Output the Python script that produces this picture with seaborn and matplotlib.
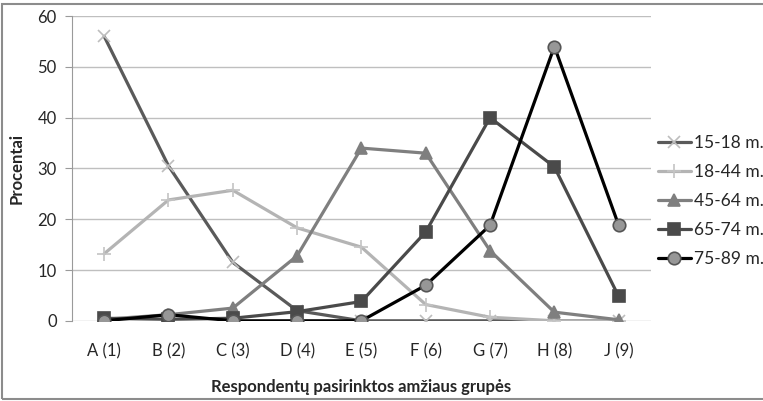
import pandas as pd
import matplotlib
matplotlib.use("Agg")
import matplotlib.pyplot as plt
import seaborn as sns
from matplotlib.patches import Rectangle

# data
categories = ["A (1)", "B (2)", "C (3)", "D (4)", "E (5)", "F (6)", "G (7)", "H (8)", "J (9)"]
g15_18 = [56.0, 30.5, 11.5, 2.0, 0.0, 0.0, 0.0, 0.0, 0.0]
g18_44 = [13.2, 23.8, 25.7, 18.3, 14.5, 3.2, 0.7, 0.0, 0.0]
g45_64 = [0.3, 1.2, 2.5, 12.8, 34.0, 33.0, 13.8, 1.7, 0.2]
g65_74 = [0.5, 0.3, 0.5, 1.8, 3.8, 17.5, 40.0, 30.3, 4.8]
g75_89 = [0.0, 1.2, 0.0, 0.0, 0.0, 7.0, 18.8, 54.0, 18.8]

series = {
    "15-18 m.": g15_18,
    "18-44 m.": g18_44,
    "45-64 m.": g45_64,
    "65-74 m.": g65_74,
    "75-89 m.": g75_89,
}

# line colour, marker, marker face, marker edge, marker size
styles = {
    "15-18 m.": ("#5a5a5a", "x", "#bdbdbd", "#bdbdbd", 9),
    "18-44 m.": ("#b4b4b4", "+", "#c4c4c4", "#c4c4c4", 10),
    "45-64 m.": ("#7f7f7f", "^", "#7f7f7f", "#7f7f7f", 8),
    "65-74 m.": ("#4a4a4a", "s", "#4a4a4a", "#4a4a4a", 8),
    "75-89 m.": ("#000000", "o", "#979797", "#555555", 9),
}

sns.set_style("white")
plt.rcParams['font.family'] = ['Lato', 'DejaVu Sans']

fig = plt.figure(figsize=(7.63, 4.01), dpi=100)
ax = fig.add_axes([0.0944, 0.2, 0.7586, 0.76])

for name, vals in series.items():
    col, mk, mfc, mec, ms = styles[name]
    df = pd.DataFrame({"group": categories, "pct": vals})
    sns.lineplot(data=df, x="group", y="pct", ax=ax, sort=False, color=col,
                 linewidth=2.3, marker=mk, markersize=ms, markerfacecolor=mfc,
                 markeredgecolor=mec, markeredgewidth=1.2, label=name)

ax.set_ylim(0, 60)
ax.set_yticks(range(0, 61, 10))
ax.set_xlim(-0.5, len(categories) - 0.5)
ax.yaxis.grid(True, color="#bfbfbf", linewidth=1.0)
ax.set_axisbelow(True)
for s in ["top", "right", "bottom"]:
    ax.spines[s].set_visible(False)
ax.spines["left"].set_color("#9a9a9a")
ax.tick_params(axis="y", left=True, length=5, color="#9a9a9a", labelsize=12, pad=6)
ax.tick_params(axis="x", bottom=False, labelsize=12, pad=13)

ax.set_xlabel("Respondentų pasirinktos amžiaus grupės", fontsize=12, fontweight="bold", labelpad=14)
ax.set_ylabel("Procentai", fontsize=12, fontweight="bold", labelpad=9)

ax.legend(loc="center left", bbox_to_anchor=(0.862, 0.498), bbox_transform=fig.transFigure,
          frameon=False, fontsize=12.5, handlelength=1.9, labelspacing=0.75,
          handletextpad=0.2, borderaxespad=0, borderpad=0)

fig.patches.append(Rectangle((0.003, 0.004), 1.0, 0.985, transform=fig.transFigure,
                             fill=False, edgecolor="#8c8c8c", linewidth=1.5))

fig.savefig("out.png", dpi=100)
plt.close()
